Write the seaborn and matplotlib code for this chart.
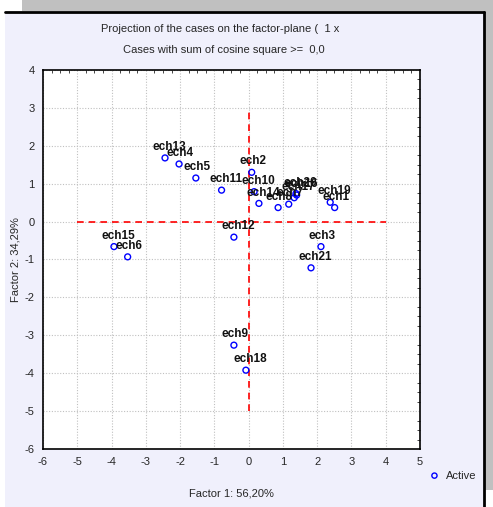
import matplotlib
matplotlib.use("Agg")
import matplotlib.pyplot as plt
import seaborn as sns
import pandas as pd
from matplotlib.patches import Rectangle
from matplotlib.ticker import MultipleLocator

# case coordinates
cases = ["ech1", "ech2", "ech3", "ech4", "ech5", "ech6", "ech7", "ech8", "ech9", "ech10",
         "ech11", "ech12", "ech13", "ech14", "ech15", "ech16", "ech17", "ech18", "ech19",
         "ech20", "ech21"]
factor1 = [2.51, 0.09, 2.11, -2.03, -1.54, -3.53, 1.17, 0.86, -0.43, 0.16,
           -0.79, -0.43, -2.44, 0.30, -3.93, 1.40, 1.33, -0.08, 2.38, 1.38, 1.82]
factor2 = [0.37, 1.30, -0.66, 1.52, 1.15, -0.93, 0.46, 0.37, -3.26, 0.79,
           0.83, -0.41, 1.68, 0.48, -0.66, 0.70, 0.63, -3.92, 0.51, 0.74, -1.22]

df = pd.DataFrame({"case": cases, "f1": factor1, "f2": factor2})

sns.set_style("white")
plt.rcParams["font.family"] = ["Liberation Sans Narrow", "Liberation Sans", "DejaVu Sans"]
plt.rcParams["axes.unicode_minus"] = False

W, H = 493, 507
fig = plt.figure(figsize=(W / 100, H / 100), dpi=100, facecolor="white")

# background panels
fig.patches.append(Rectangle((22 / W, 1 - 11 / H), 1, 11 / H, transform=fig.transFigure,
                             facecolor="#c0c0c0", edgecolor="none", zorder=-3))
fig.patches.append(Rectangle((485 / W, 17 / H), 8 / W, 1, transform=fig.transFigure,
                             facecolor="#c0c0c0", edgecolor="none", zorder=-3))
fig.patches.append(Rectangle((5 / W, 0), 479 / W, 1 - 12 / H, transform=fig.transFigure,
                             facecolor="#f0f0fc", edgecolor="none", zorder=-2))
fig.add_artist(plt.Line2D([5 / W, 484 / W], [1 - 12 / H, 1 - 12 / H], transform=fig.transFigure,
                          color="black", lw=2, zorder=-1))
fig.add_artist(plt.Line2D([484 / W, 484 / W], [0, 1 - 12 / H], transform=fig.transFigure,
                          color="black", lw=2, zorder=-1))

ax = fig.add_axes([43 / W, 1 - 449 / H, 377 / W, 379 / H])
ax.set_zorder(2)
ax.set_facecolor("white")

ax.plot([-5, 4], [0, 0], color="red", ls=(0, (4, 3)), lw=1.2, zorder=2)
ax.plot([0, 0], [-5, 3], color="red", ls=(0, (4, 3)), lw=1.2, zorder=2)

sns.scatterplot(data=df, x="f1", y="f2", ax=ax, marker="o", s=18,
                facecolor="none", edgecolor="blue", linewidth=1, zorder=3, legend=False)

for _, r in df.iterrows():
    ax.annotate(r["case"], (r["f1"], r["f2"]), xytext=(-9, 3.5), textcoords="offset points",
                ha="left", va="bottom", fontsize=8.5, fontweight="bold", color="#111111", zorder=4)

ax.set_xlim(-6, 5)
ax.set_ylim(-6, 4)
ax.xaxis.set_major_locator(MultipleLocator(1))
ax.yaxis.set_major_locator(MultipleLocator(1))
ax.xaxis.set_minor_locator(MultipleLocator(0.25))
ax.yaxis.set_minor_locator(MultipleLocator(0.25))
ax.grid(True, which="major", color="#c0c0c0", ls=(0, (1, 1.5)), lw=0.8)
ax.tick_params(which="both", direction="in", top=True, right=True, labelsize=8, pad=6)
ax.tick_params(which="major", length=0)
ax.tick_params(which="minor", length=2.5, width=0.6)
for s in ax.spines.values():
    s.set_color("black")
    s.set_linewidth(1.2)

ax.set_xlabel("Factor 1: 56,20%", fontsize=8, labelpad=15)
ax.set_ylabel("Factor 2: 34,29%", fontsize=8, labelpad=3)

fig.text(101 / W, 1 - 29 / H, "Projection of the cases on the factor-plane (  1 x",
         fontsize=8, ha="left", va="center")
fig.text(123 / W, 1 - 50 / H, "Cases with sum of cosine square >=  0,0",
         fontsize=8, ha="left", va="center")

# legend
ax.scatter([], [], marker="o", s=14, facecolor="none", edgecolor="blue", linewidth=1, label="Active")
ax.legend(loc="center left", bbox_to_anchor=(1.0, -0.07), frameon=False, fontsize=8,
          handlelength=1.0, handletextpad=0.5, borderaxespad=0.4)

fig.savefig("out.png", dpi=100, facecolor=fig.get_facecolor())
